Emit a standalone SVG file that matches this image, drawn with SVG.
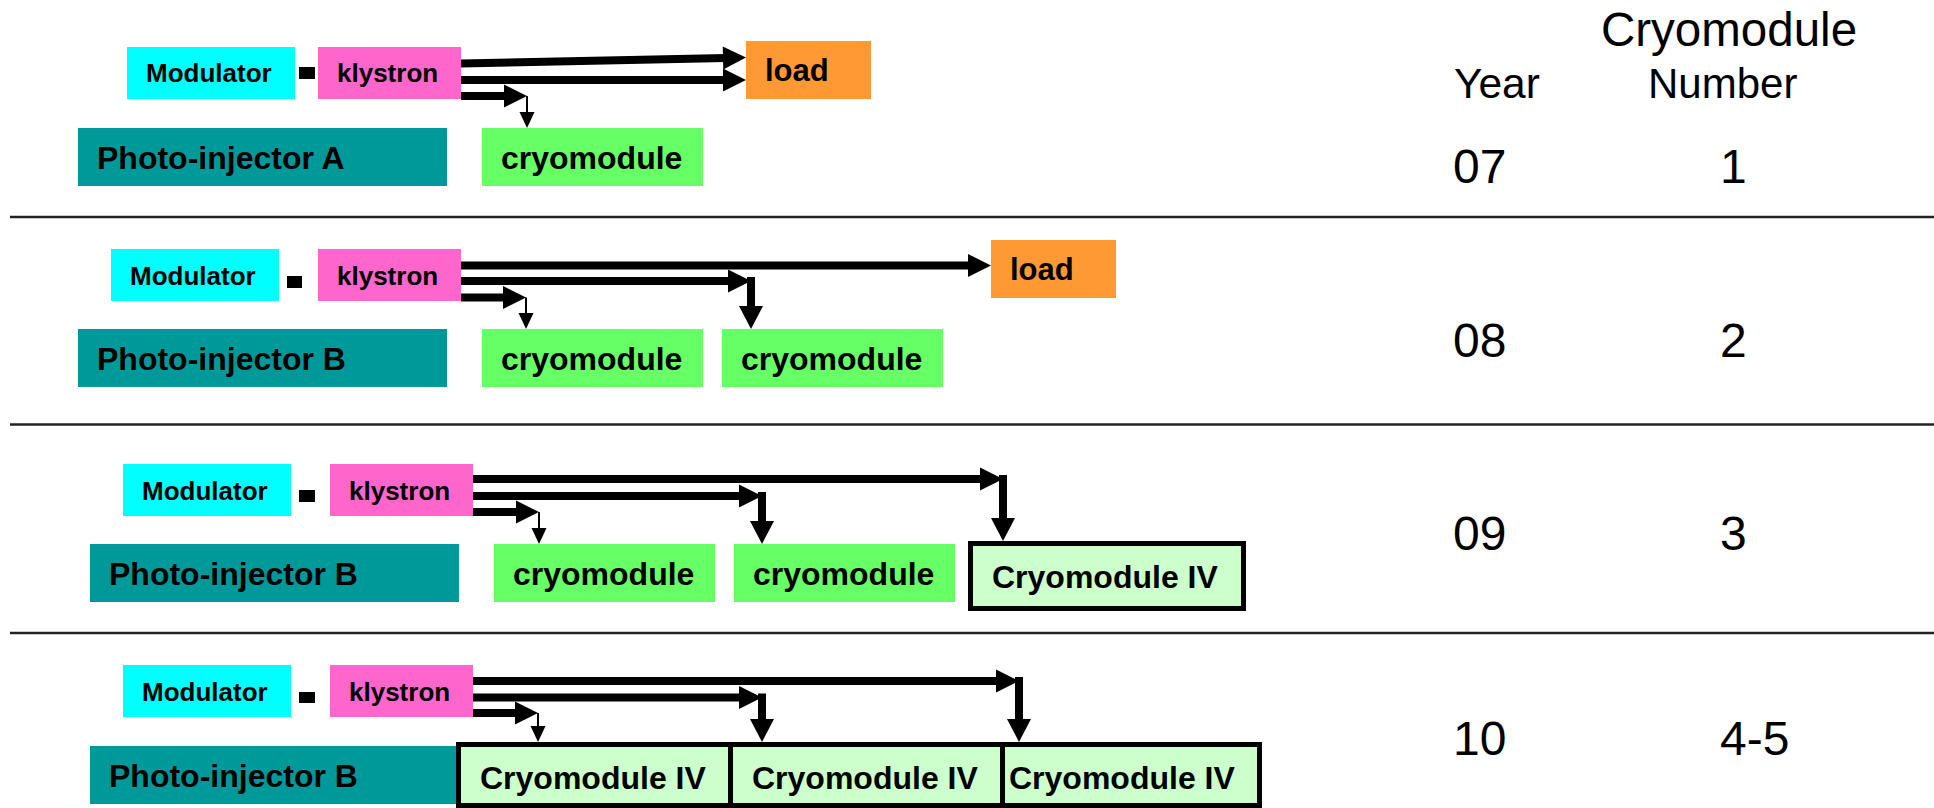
<svg xmlns="http://www.w3.org/2000/svg" width="1934" height="808" viewBox="0 0 1934 808">
<style>
.t{font-family:"Liberation Sans",Arial,sans-serif;font-weight:bold;fill:#000}
.s26{font-size:26px}
.s31{font-size:31px}
.s32{font-size:32px}
.mod{fill:#00FFFF}
.kly{fill:#FF66CC}
.load{fill:#FF9933}
.pi{fill:#009999}
.cm{fill:#66FF66}
.cm4{fill:#CCFFCC;stroke:#000;stroke-width:5}
.sq{fill:#000}
.sep{stroke:#222;stroke-width:2.5}
.shaft{stroke:#000;stroke-width:8;fill:none}
.thin{stroke:#000;stroke-width:2;fill:none}
.head{fill:#000}
.r{font-family:"Liberation Sans",Arial,sans-serif;fill:#000}
</style>
<rect width="1934" height="808" fill="#fff"/>

<!-- separators -->
<g id="separators">
<line class="sep" x1="10" y1="217" x2="1934" y2="217"/>
<line class="sep" x1="10" y1="424.5" x2="1934" y2="424.5"/>
<line class="sep" x1="10" y1="633" x2="1934" y2="633"/>
</g>

<!-- Row 1 -->
<g id="r1-modulator"><rect class="mod" x="127" y="47" width="168" height="52"/><text class="t s26" x="146" y="82">Modulator</text></g>
<g id="r1-link"><rect class="sq" x="299" y="67" width="16" height="12"/></g>
<g id="r1-klystron"><rect class="kly" x="318" y="47" width="143" height="52"/><text class="t s26" x="337" y="82">klystron</text></g>
<g id="r1-load"><rect class="load" x="746" y="41" width="125" height="58"/><text class="t s31" x="765" y="81">load</text></g>
<g id="r1-photoinjector"><rect class="pi" x="78" y="128" width="369" height="58"/><text class="t s32" x="97" y="168.5">Photo-injector A</text></g>
<g id="r1-cryo1"><rect class="cm" x="482" y="128" width="221" height="58"/><text class="t s32" x="501" y="168.5">cryomodule</text></g>

<!-- Row 2 -->
<g id="r2-modulator"><rect class="mod" x="111" y="249" width="168" height="52"/><text class="t s26" x="130" y="284.5">Modulator</text></g>
<g id="r2-link"><rect class="sq" x="287" y="276" width="15" height="12"/></g>
<g id="r2-klystron"><rect class="kly" x="318" y="249" width="143" height="52"/><text class="t s26" x="337" y="284.5">klystron</text></g>
<g id="r2-load"><rect class="load" x="991" y="240" width="125" height="58"/><text class="t s31" x="1010" y="280">load</text></g>
<g id="r2-photoinjector"><rect class="pi" x="78" y="329" width="369" height="58"/><text class="t s32" x="97" y="369.5">Photo-injector B</text></g>
<g id="r2-cryo1"><rect class="cm" x="482" y="329" width="221" height="58"/><text class="t s32" x="501" y="369.5">cryomodule</text></g>
<g id="r2-cryo2"><rect class="cm" x="722" y="329" width="221" height="58"/><text class="t s32" x="741" y="369.5">cryomodule</text></g>

<!-- Row 3 -->
<g id="r3-modulator"><rect class="mod" x="123" y="464" width="168" height="52"/><text class="t s26" x="142" y="499.5">Modulator</text></g>
<g id="r3-link"><rect class="sq" x="299" y="490" width="16" height="12"/></g>
<g id="r3-klystron"><rect class="kly" x="330" y="464" width="143" height="52"/><text class="t s26" x="349" y="499.5">klystron</text></g>
<g id="r3-photoinjector"><rect class="pi" x="90" y="544" width="369" height="58"/><text class="t s32" x="109" y="584.5">Photo-injector B</text></g>
<g id="r3-cryo1"><rect class="cm" x="494" y="544" width="221" height="58"/><text class="t s32" x="513" y="584.5">cryomodule</text></g>
<g id="r3-cryo2"><rect class="cm" x="734" y="544" width="221" height="58"/><text class="t s32" x="753" y="584.5">cryomodule</text></g>
<g id="r3-cryo4"><rect class="cm4" x="970.5" y="543.5" width="273" height="65" stroke-width="5.5"/><text class="t s32" x="992" y="587.5">Cryomodule IV</text></g>

<!-- Row 4 -->
<g id="r4-modulator"><rect class="mod" x="123" y="665" width="168" height="52"/><text class="t s26" x="142" y="700.5">Modulator</text></g>
<g id="r4-link"><rect class="sq" x="299" y="692" width="16" height="11"/></g>
<g id="r4-klystron"><rect class="kly" x="330" y="665" width="143" height="52"/><text class="t s26" x="349" y="700.5">klystron</text></g>
<g id="r4-photoinjector"><rect class="pi" x="90" y="746" width="369" height="58"/><text class="t s32" x="109" y="786.5">Photo-injector B</text></g>
<g id="r4-cryo4a"><rect class="cm4" x="458.5" y="744.5" width="272" height="61"/><text class="t s32" x="480" y="788.5">Cryomodule IV</text></g>
<g id="r4-cryo4b"><rect class="cm4" x="730.5" y="744.5" width="272" height="61"/><text class="t s32" x="752" y="788.5">Cryomodule IV</text></g>
<g id="r4-cryo4c"><rect class="cm4" x="1002.5" y="744.5" width="257" height="61"/><text class="t s32" x="1009" y="788.5">Cryomodule IV</text></g>

<!-- connectors -->
<g id="connectors">
<!-- row 1 -->
<g transform="translate(746,57.5) rotate(-1.215)">
<line class="shaft" x1="-285" y1="0" x2="-20" y2="0"/>
<polygon class="head" points="-23,-11.5 0,0 -23,11.5"/>
</g>
<line class="shaft" x1="461" y1="80" x2="726" y2="80"/>
<polygon class="head" points="723,68.5 746,80 723,91.5"/>
<line class="shaft" x1="461" y1="96" x2="507" y2="96"/>
<polygon class="head" points="504,84.5 527,96 504,107.5"/>
<line class="thin" x1="527" y1="96" x2="527" y2="114"/>
<polygon class="head" points="519.5,112 534.5,112 527,128"/>

<!-- row 2 -->
<line class="shaft" x1="461" y1="265.5" x2="971" y2="265.5"/>
<polygon class="head" points="968,254 991,265.5 968,277"/>
<line class="shaft" x1="461" y1="281" x2="731" y2="281"/>
<polygon class="head" points="728,269.5 751,281 728,292.5"/>
<line class="shaft" x1="751" y1="277" x2="751" y2="309"/>
<polygon class="head" points="739,306 763,306 751,329"/>
<line class="shaft" x1="461" y1="297.5" x2="506" y2="297.5"/>
<polygon class="head" points="503,286 526,297.5 503,309"/>
<line class="thin" x1="526" y1="297.5" x2="526" y2="315"/>
<polygon class="head" points="518.5,313 533.5,313 526,329"/>

<!-- row 3 -->
<line class="shaft" x1="473" y1="479" x2="983" y2="479"/>
<polygon class="head" points="980,467.5 1003,479 980,490.5"/>
<line class="shaft" x1="1003" y1="475" x2="1003" y2="521"/>
<polygon class="head" points="991,518 1015,518 1003,541"/>
<line class="shaft" x1="473" y1="496" x2="742" y2="496"/>
<polygon class="head" points="739,484.5 762,496 739,507.5"/>
<line class="shaft" x1="762" y1="492" x2="762" y2="524"/>
<polygon class="head" points="750,521 774,521 762,544"/>
<line class="shaft" x1="473" y1="512" x2="519" y2="512"/>
<polygon class="head" points="516,500.5 539,512 516,523.5"/>
<line class="thin" x1="539" y1="512" x2="539" y2="530"/>
<polygon class="head" points="531.5,528 546.5,528 539,544"/>

<!-- row 4 -->
<line class="shaft" x1="473" y1="681" x2="999" y2="681"/>
<polygon class="head" points="996,669.5 1019,681 996,692.5"/>
<line class="shaft" x1="1019" y1="677" x2="1019" y2="722"/>
<polygon class="head" points="1007,719 1031,719 1019,742"/>
<line class="shaft" x1="473" y1="697.5" x2="742" y2="697.5"/>
<polygon class="head" points="739,686 762,697.5 739,709"/>
<line class="shaft" x1="762" y1="693.5" x2="762" y2="722"/>
<polygon class="head" points="750,719 774,719 762,742"/>
<line class="shaft" x1="473" y1="713" x2="518" y2="713"/>
<polygon class="head" points="515,701.5 538,713 515,724.5"/>
<line class="thin" x1="538" y1="713" x2="538" y2="728"/>
<polygon class="head" points="530.5,726 545.5,726 538,742"/>
</g>

<!-- right-hand table -->
<g id="table">
<text class="r" x="1601" y="46" font-size="47.5">Cryomodule</text>
<text class="r" x="1454" y="98" font-size="42.5">Year</text>
<text class="r" x="1648" y="98" font-size="42">Number</text>
<text class="r" x="1453" y="183" font-size="48">07</text>
<text class="r" x="1720" y="183" font-size="48">1</text>
<text class="r" x="1453" y="357" font-size="48">08</text>
<text class="r" x="1720" y="357" font-size="48">2</text>
<text class="r" x="1453" y="550" font-size="48">09</text>
<text class="r" x="1720" y="550" font-size="48">3</text>
<text class="r" x="1453" y="755" font-size="48">10</text>
<text class="r" x="1720" y="755" font-size="48">4-5</text>
</g>
</svg>
